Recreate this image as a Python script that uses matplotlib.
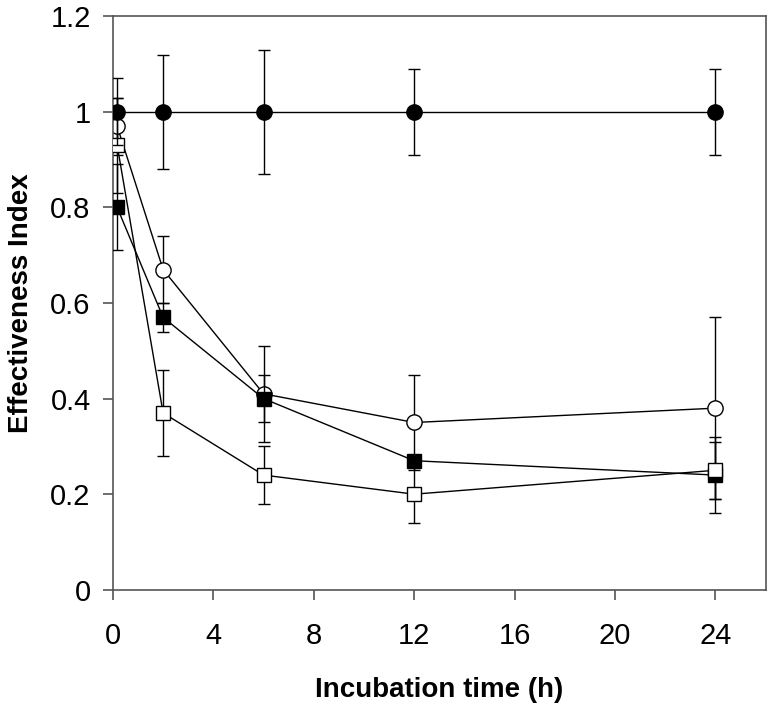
import matplotlib
matplotlib.use("Agg")
import matplotlib.pyplot as plt

# incubation times (h)
t = [0.17, 2, 6, 12, 24]

# effectiveness index, mean and error per series
ctrl = [1.0, 1.0, 1.0, 1.0, 1.0]
ctrl_err = [0.07, 0.12, 0.13, 0.09, 0.09]
open_circ = [0.97, 0.67, 0.41, 0.35, 0.38]
open_circ_err = [0.06, 0.07, 0.10, 0.10, 0.19]
fill_sq = [0.80, 0.57, 0.40, 0.27, 0.24]
fill_sq_err = [0.09, 0.03, 0.05, 0.01, 0.08]
open_sq = [0.93, 0.37, 0.24, 0.20, 0.25]
open_sq_err = [0.10, 0.09, 0.06, 0.06, 0.06]

xticks = [0, 4, 8, 12, 16, 20, 24]
yticks = [0, 0.2, 0.4, 0.6, 0.8, 1.0, 1.2]
ytick_labels = ["0", "0.2", "0.4", "0.6", "0.8", "1", "1.2"]

plt.rcParams["font.family"] = ["Liberation Sans", "DejaVu Sans"]

fig = plt.figure(figsize=(7.68, 7.08), dpi=100)
ax = fig.add_axes([0.147, 0.167, 0.85, 0.81])

common = dict(color="black", lw=1.0, elinewidth=1.0, capsize=4, capthick=1.0,
              markeredgecolor="black", markeredgewidth=1.0)

ax.errorbar(t, open_circ, yerr=open_circ_err, fmt="-o", ms=11,
            markerfacecolor="white", zorder=2, **common)
ax.errorbar(t, fill_sq, yerr=fill_sq_err, fmt="-s", ms=10,
            markerfacecolor="black", zorder=3, **common)
ax.errorbar(t, open_sq, yerr=open_sq_err, fmt="-s", ms=10,
            markerfacecolor="white", zorder=4, **common)
ax.errorbar(t, ctrl, yerr=ctrl_err, fmt="-o", ms=11,
            markerfacecolor="black", zorder=5, **common)

ax.set_xlim(0, 26)
ax.set_ylim(0, 1.2)
ax.set_xticks(xticks)
ax.set_yticks(yticks)
ax.set_yticklabels(ytick_labels)
ax.tick_params(axis="both", direction="out", length=7, width=1.2,
               labelsize=21, color="#555555")
ax.tick_params(axis="x", pad=16)
ax.tick_params(axis="y", pad=9)
for s in ax.spines.values():
    s.set_color("#555555")
    s.set_linewidth(1.2)

ax.set_xlabel("Incubation time (h)", fontsize=20, fontweight="bold", labelpad=20)
ax.set_ylabel("Effectiveness Index", fontsize=20, fontweight="bold", labelpad=12)

fig.savefig("out.png", dpi=100)
